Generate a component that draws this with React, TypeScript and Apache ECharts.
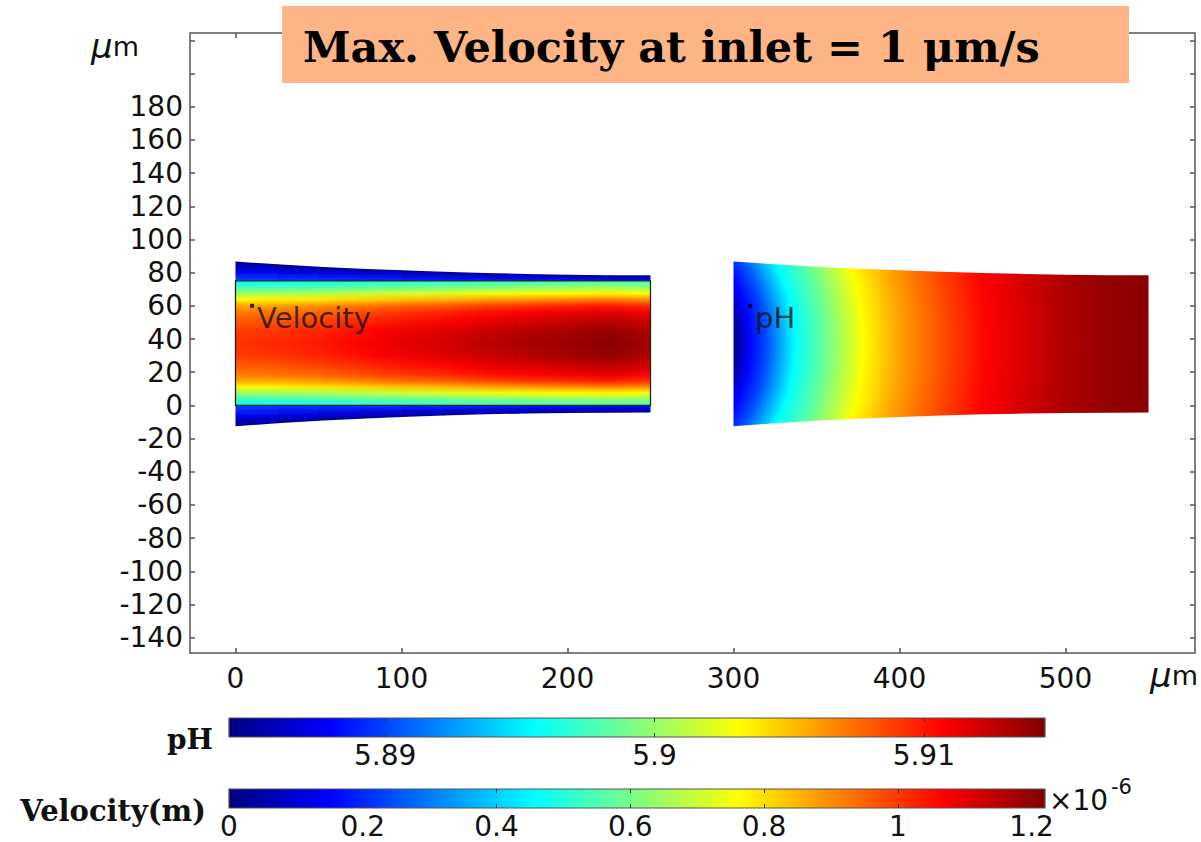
import React, { useEffect, useRef } from "react";
import * as echarts from "echarts";

// ---- geometry of the tapered channels (µm) ----
const wallX = [0, 25, 50, 75, 100, 125, 150, 175, 200, 225, 250];
const wallTop = [86.7, 85.0, 83.6, 82.4, 81.4, 80.5, 79.8, 79.2, 78.8, 78.5, 78.4];
const wallBottom = [-12.6, -10.8, -9.3, -8.0, -7.0, -6.1, -5.4, -4.9, -4.6, -4.4, -4.3];
const phChannelShift = 300;

// ---- velocity field (×1e-6 m/s) ----
const coreTop = 75;
const coreBottom = 0;
const centerVelocity = [1.01, 1.02, 1.04, 1.07, 1.1, 1.12, 1.15, 1.17, 1.19, 1.21, 1.18];
const profileY = [0, 3.75, 7.5, 11.25, 15, 18.75, 22.5, 30, 37.5, 45, 52.5, 56.25, 60, 63.75, 67.5, 71.25, 75];
const profileRatio = [0.45, 0.53, 0.64, 0.76, 0.86, 0.91, 0.94, 0.985, 1, 0.985, 0.94, 0.91, 0.86, 0.76, 0.64, 0.53, 0.45];
const bandEdgeVelocity = [0.24, 0.23, 0.22, 0.22, 0.21, 0.2, 0.2, 0.19, 0.18, 0.18, 0.17];
const bandPos = [0, 0.5, 1];
const bandRatio = [0, 0.55, 1];

// ---- pH field along the channel axis ----
const phX = [300, 310, 320, 337, 350, 365, 378, 400, 425, 453, 480, 500, 525, 550];
const phCenter = [5.8845, 5.8881, 5.8903, 5.8956, 5.8978, 5.9006, 5.9031, 5.9059, 5.9083, 5.9107, 5.9121, 5.9131, 5.9138, 5.9142];
const phSourceX = 230;
const phSourceY = 37;

// ---- colour ranges and ticks ----
const phRange = [5.8842, 5.9145];
const phTicks = [5.89, 5.9, 5.91];
const velRange = [0, 1.22];
const velTicks = [0, 0.2, 0.4, 0.6, 0.8, 1, 1.2];

// ---- plot axes ----
const xRange = [-27.4, 578];
const yRange = [-149.2, 224.4];
const xTickValues = [0, 100, 200, 300, 400, 500];
const yTickValues = [-140, -120, -100, -80, -60, -40, -20, 0, 20, 40, 60, 80, 100, 120, 140, 160, 180, 200, 220];
const yLabelValues = [-140, -120, -100, -80, -60, -40, -20, 0, 20, 40, 60, 80, 100, 120, 140, 160, 180];

// ---- point annotations ----
const annotations = [
  [10, 60, "Velocity"],
  [310, 60, "pH"],
];

const SANS = "DejaVu Sans";
const SERIF = "DejaVu Serif";
const SUB_SLICES = 12;

function jet(t: number): string {
  const c = Math.max(0, Math.min(1, t));
  const f = (v: number) => Math.round(255 * Math.max(0, Math.min(1, 1.5 - Math.abs(v))));
  return `rgb(${f(4 * c - 3)},${f(4 * c - 2)},${f(4 * c - 1)})`;
}
const velColor = (v: number) => jet((v - velRange[0]) / (velRange[1] - velRange[0]));
const phColor = (p: number) => jet((p - phRange[0]) / (phRange[1] - phRange[0]));
const jetStops = [0, 1 / 8, 3 / 8, 5 / 8, 7 / 8, 1].map((o) => ({ offset: o, color: jet(o) }));

function profileStops(center: number) {
  return profileY
    .map((y, j) => ({
      offset: (coreTop - y) / (coreTop - coreBottom),
      color: velColor(center * profileRatio[j]),
    }))
    .reverse();
}

export default function App() {
  const ref = useRef<HTMLDivElement>(null);

  useEffect(() => {
    if (!ref.current) return;
    const chart = echarts.init(ref.current, undefined, { renderer: "svg" });

    const tickStyle = { color: "#555", width: 1.5 };
    const labelFont = { fontFamily: SANS, fontSize: 28, color: "#111" };
    const hiddenLine = { show: false, onZero: false };
    const barTick = { color: "#333", width: 1 };
    const unitStyle = {
      text: "{mu|μ}m", fill: "#111", fontFamily: SANS, fontSize: 27, verticalAlign: "middle",
      rich: { mu: { fontFamily: SANS, fontStyle: "italic", fontSize: 34, fill: "#111" } },
    };

    const option: any = {
      animation: false,
      backgroundColor: "#fff",
      grid: [
        { left: 190, top: 33, width: 1005, height: 620, show: true, borderColor: "#555", borderWidth: 1.5 },
        { left: 229, top: 718, width: 816, height: 19 },
        { left: 229, top: 789, width: 816, height: 19 },
      ],
      xAxis: [
        {
          type: "value", gridIndex: 0, position: "bottom", min: xRange[0], max: xRange[1],
          axisLine: hiddenLine, splitLine: { show: false },
          axisTick: { inside: true, length: 5, lineStyle: tickStyle, customValues: xTickValues },
          axisLabel: { ...labelFont, margin: 11, customValues: xTickValues },
        },
        {
          type: "value", gridIndex: 0, position: "top", min: xRange[0], max: xRange[1],
          axisLine: hiddenLine, splitLine: { show: false }, axisLabel: { show: false },
          axisTick: { inside: true, length: 5, lineStyle: tickStyle, customValues: xTickValues },
        },
        {
          type: "value", gridIndex: 1, position: "bottom", min: phRange[0], max: phRange[1], z: 10,
          axisLine: hiddenLine, splitLine: { show: false },
          axisTick: { inside: true, length: 4, lineStyle: barTick, customValues: phTicks },
          axisLabel: { ...labelFont, margin: 4, customValues: phTicks, formatter: (v: number) => String(Math.round(v * 100) / 100) },
        },
        {
          type: "value", gridIndex: 1, position: "top", min: phRange[0], max: phRange[1], z: 10,
          axisLine: hiddenLine, splitLine: { show: false }, axisLabel: { show: false },
          axisTick: { inside: true, length: 4, lineStyle: barTick, customValues: phTicks },
        },
        {
          type: "value", gridIndex: 2, position: "bottom", min: velRange[0], max: velRange[1], z: 10,
          axisLine: hiddenLine, splitLine: { show: false },
          axisTick: { inside: true, length: 4, lineStyle: barTick, customValues: velTicks },
          axisLabel: { ...labelFont, margin: 4, customValues: velTicks, formatter: (v: number) => String(Math.round(v * 10) / 10) },
        },
        {
          type: "value", gridIndex: 2, position: "top", min: velRange[0], max: velRange[1], z: 10,
          axisLine: hiddenLine, splitLine: { show: false }, axisLabel: { show: false },
          axisTick: { inside: true, length: 4, lineStyle: barTick, customValues: velTicks },
        },
      ],
      yAxis: [
        {
          type: "value", gridIndex: 0, position: "left", min: yRange[0], max: yRange[1],
          axisLine: hiddenLine, splitLine: { show: false },
          axisTick: { inside: true, length: 5, lineStyle: tickStyle, customValues: yTickValues },
          axisLabel: { ...labelFont, margin: 7, customValues: yLabelValues },
        },
        {
          type: "value", gridIndex: 0, position: "right", min: yRange[0], max: yRange[1],
          axisLine: hiddenLine, splitLine: { show: false }, axisLabel: { show: false },
          axisTick: { inside: true, length: 5, lineStyle: tickStyle, customValues: yTickValues },
        },
        { type: "value", gridIndex: 1, min: 0, max: 1, show: false },
        { type: "value", gridIndex: 2, min: 0, max: 1, show: false },
      ],
      series: [
        // outer wall bands of the velocity channel
        {
          type: "custom", xAxisIndex: 0, yAxisIndex: 0, silent: true,
          data: wallX.slice(0, -1).map((x, i) => [x, bandEdgeVelocity[i]]),
          renderItem: (params: any, api: any) => {
            const i = params.dataIndex;
            const ext = i < wallX.length - 2 ? 0.8 : 0;
            const a = api.coord([wallX[i], coreTop]);
            const b = api.coord([wallX[i], wallTop[i]]);
            const c = api.coord([wallX[i + 1], wallTop[i + 1]]);
            const d = api.coord([wallX[i + 1], coreTop]);
            const e = api.coord([wallX[i], coreBottom]);
            const f = api.coord([wallX[i], wallBottom[i]]);
            const g = api.coord([wallX[i + 1], wallBottom[i + 1]]);
            const h = api.coord([wallX[i + 1], coreBottom]);
            const edge = (bandEdgeVelocity[i] + bandEdgeVelocity[i + 1]) / 2;
            const topStops = bandPos.map((p, k) => ({ offset: p, color: velColor(edge * bandRatio[k]) }));
            const botStops = bandPos.map((p, k) => ({ offset: 1 - p, color: velColor(edge * bandRatio[k]) })).reverse();
            return {
              type: "group",
              children: [
                {
                  type: "polygon",
                  shape: { points: [a, b, [c[0] + ext, c[1]], [d[0] + ext, d[1]]] },
                  style: { fill: new echarts.graphic.LinearGradient(0, 0, 0, 1, topStops) },
                },
                {
                  type: "polygon",
                  shape: { points: [e, [h[0] + ext, h[1]], [g[0] + ext, g[1]], f] },
                  style: { fill: new echarts.graphic.LinearGradient(0, 0, 0, 1, botStops) },
                },
              ],
            };
          },
        },
        // core of the velocity channel: each station interval shaded in thin slices
        {
          type: "custom", xAxisIndex: 0, yAxisIndex: 0, silent: true,
          data: wallX.slice(0, -1).map((x, i) => [x, centerVelocity[i]]),
          renderItem: (params: any, api: any) => {
            const i = params.dataIndex;
            const last = i === wallX.length - 2;
            const xa = wallX[i];
            const xb = wallX[i + 1];
            const children: any[] = [];
            for (let k = 0; k < SUB_SLICES; k++) {
              const u0 = k / SUB_SLICES;
              const u1 = (k + 1) / SUB_SLICES;
              const um = (k + 0.5) / SUB_SLICES;
              const center = centerVelocity[i] + (centerVelocity[i + 1] - centerVelocity[i]) * um;
              const p0 = api.coord([xa + (xb - xa) * u0, coreTop]);
              const p1 = api.coord([xa + (xb - xa) * u1, coreBottom]);
              const pad = last && k === SUB_SLICES - 1 ? 0 : 0.8;
              children.push({
                type: "rect",
                shape: { x: p0[0], y: p0[1], width: p1[0] - p0[0] + pad, height: p1[1] - p0[1] },
                style: { fill: new echarts.graphic.LinearGradient(0, 0, 0, 1, profileStops(center)) },
              });
            }
            return { type: "group", children };
          },
        },
        // outline of the core region
        {
          type: "custom", xAxisIndex: 0, yAxisIndex: 0, silent: true,
          data: [[wallX[0], coreTop, wallX[wallX.length - 1], coreBottom]],
          renderItem: (params: any, api: any) => {
            const p0 = api.coord([api.value(0), api.value(1)]);
            const p1 = api.coord([api.value(2), api.value(3)]);
            return {
              type: "rect",
              shape: { x: p0[0], y: p0[1], width: p1[0] - p0[0], height: p1[1] - p0[1] },
              style: { fill: "none", stroke: "#222", lineWidth: 1.3 },
            };
          },
        },
        // pH channel
        {
          type: "custom", xAxisIndex: 0, yAxisIndex: 0, silent: true,
          data: [[phChannelShift, phCenter[0]]],
          renderItem: (params: any, api: any) => {
            const top = wallX.map((x, i) => api.coord([x + phChannelShift, wallTop[i]]));
            const bot = wallX.map((x, i) => api.coord([x + phChannelShift, wallBottom[i]])).reverse();
            const src = api.coord([phSourceX, phSourceY]);
            const xEnd = phX[phX.length - 1];
            const r = api.coord([xEnd, phSourceY])[0] - src[0];
            const stops = [{ offset: 0, color: phColor(phCenter[0]) }].concat(
              phX.map((x, k) => ({ offset: (x - phSourceX) / (xEnd - phSourceX), color: phColor(phCenter[k]) }))
            );
            return {
              type: "polygon",
              shape: { points: top.concat(bot) },
              style: { fill: new echarts.graphic.RadialGradient(src[0], src[1], r, stops, true) },
            };
          },
        },
        // point annotations
        {
          type: "scatter", xAxisIndex: 0, yAxisIndex: 0, silent: true,
          symbol: "rect", symbolSize: 4, itemStyle: { color: "#000" },
          data: annotations,
          label: {
            show: true, position: [7, 0], align: "left", verticalAlign: "top",
            formatter: (p: any) => p.data[2],
            fontFamily: SANS, fontSize: 29, color: "#111",
          },
          z: 5,
        },
        // colour bars
        {
          type: "custom", xAxisIndex: 2, yAxisIndex: 2, silent: true,
          data: [[phRange[0], phRange[1]]],
          renderItem: (params: any, api: any) => {
            const p0 = api.coord([api.value(0), 1]);
            const p1 = api.coord([api.value(1), 0]);
            return {
              type: "rect",
              shape: { x: p0[0], y: p0[1], width: p1[0] - p0[0], height: p1[1] - p0[1] },
              style: { fill: new echarts.graphic.LinearGradient(0, 0, 1, 0, jetStops), stroke: "#555", lineWidth: 1.2 },
            };
          },
        },
        {
          type: "custom", xAxisIndex: 4, yAxisIndex: 3, silent: true,
          data: [[velRange[0], velRange[1]]],
          renderItem: (params: any, api: any) => {
            const p0 = api.coord([api.value(0), 1]);
            const p1 = api.coord([api.value(1), 0]);
            return {
              type: "rect",
              shape: { x: p0[0], y: p0[1], width: p1[0] - p0[0], height: p1[1] - p0[1] },
              style: { fill: new echarts.graphic.LinearGradient(0, 0, 1, 0, jetStops), stroke: "#555", lineWidth: 1.2 },
            };
          },
        },
      ],
      graphic: [
        { type: "rect", left: 282, top: 6, shape: { width: 847, height: 77 }, style: { fill: "#FDB585" }, z: 20 },
        {
          type: "text", x: 303, y: 47, z: 21,
          style: {
            text: "Max. Velocity at inlet = 1 μm/s", fill: "#000",
            fontFamily: SERIF, fontWeight: "bold", fontSize: 43, verticalAlign: "middle",
          },
        },
        { type: "text", x: 91, y: 46, z: 21, style: { ...unitStyle } },
        { type: "text", x: 1150, y: 675, z: 21, style: { ...unitStyle } },
        {
          type: "text", x: 213, y: 739, z: 21,
          style: { text: "pH", fill: "#111", fontFamily: SERIF, fontWeight: "bold", fontSize: 28, align: "right", verticalAlign: "middle" },
        },
        {
          type: "text", x: 206, y: 811, z: 21,
          style: { text: "Velocity(m)", fill: "#111", fontFamily: SERIF, fontWeight: "bold", fontSize: 29, align: "right", verticalAlign: "middle" },
        },
        {
          type: "text", x: 1049, y: 800, z: 21,
          style: { text: "×10", fill: "#111", fontFamily: SANS, fontSize: 28, verticalAlign: "middle" },
        },
        {
          type: "text", x: 1111, y: 787, z: 21,
          style: { text: "-6", fill: "#111", fontFamily: SANS, fontSize: 21, verticalAlign: "middle" },
        },
      ],
    };

    chart.setOption(option);
    return () => chart.dispose();
  }, []);

  return <div ref={ref} style={{ position: "absolute", left: 0, top: 0, width: 1201, height: 842 }} />;
}
